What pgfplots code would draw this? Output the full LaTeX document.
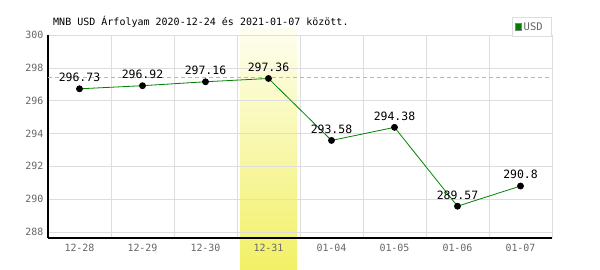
\documentclass[border=0pt]{standalone}
\usepackage{pgfplots}
\pgfplotsset{compat=1.18}
\usepackage{pgfplotstable}
\usepackage{fontspec}
\setmainfont{DejaVu Sans Mono}
\setmonofont{DejaVu Sans Mono}

\definecolor{gridgray}{HTML}{DDDDDD}
\definecolor{ticktext}{HTML}{666666}
\definecolor{usdgreen}{HTML}{008000}
\definecolor{dashgreen}{HTML}{99CC99}
\definecolor{hltop}{HTML}{FEFEF0}
\definecolor{hlbot}{HTML}{F2F064}

\pgfplotsset{
 layers/mylayers/.define layer set={axis background,axis grid,axis ticks,axis lines,highlight,axis tick labels,main,axis descriptions,axis foreground}{},
}

\pgfplotstableread{
x y lab
0 296.73 296.73
1 296.92 296.92
2 297.16 297.16
3 297.36 297.36
4 293.58 293.58
5 294.38 294.38
6 289.57 289.57
7 290.8 290.8
}\usd

\begin{document}
\begin{tikzpicture}
\begin{axis}[
 set layers=mylayers,
 at={(0,0)}, anchor=south west,
 scale only axis, width=504bp, height=202.8bp,
 xmin=-0.5, xmax=7.5, ymin=287.63, ymax=300,
 axis x line*=bottom, axis y line*=left,
 axis line style={black, line width=1.2bp, -},
 xtick={0,...,7},
 xticklabels={12-28,12-29,12-30,12-31,01-04,01-05,01-06,01-07},
 minor xtick={-0.5,0.5,...,7.5},
 xminorgrids,
 ytick={288,290,...,300},
 yticklabels={288,290,292,294,296,298,300},
 ymajorgrids,
 grid style={gridgray, line width=0.8bp},
 minor grid style={gridgray, line width=0.8bp},
 major tick length=0pt, minor tick length=0pt,
 tick label style={font=\fontsize{10}{12}\selectfont, text=ticktext},
 xticklabel style={yshift=-3bp},
 yticklabel style={xshift=-1bp},
 clip=false,
 legend style={at={(1,1.0897)}, anchor=north east, draw=gridgray, line width=0.8bp,
   font=\fontsize{10.5}{12}\selectfont, text=ticktext, inner xsep=2bp, inner ysep=3bp},
 legend cell align=left,
 legend image code/.code={\draw[#1] (0bp,-3.2bp) rectangle (6.4bp,3.2bp);},
]
\begin{pgfonlayer}{highlight}
\fill[top color=hltop, bottom color=hlbot] (axis cs:2.55,285.6) rectangle (axis cs:3.45,300.43);
\end{pgfonlayer}
\addplot[dashgreen, dash pattern=on 4bp off 3bp, line width=0.8bp, forget plot] coordinates {(-0.5,297.4) (7.45,297.4)};
\addplot[usdgreen, line width=0.8bp, mark=*, mark size=3bp, mark options={black, fill=black, solid},
  nodes near coords, point meta=explicit symbolic,
  every node near coord/.style={anchor=south, yshift=5.5bp, inner sep=1bp, black, font=\fontsize{11.5}{13}\selectfont},
  forget plot] table[x=x,y=y,meta=lab]{\usd};
\addlegendimage{fill=usdgreen, draw=gray, line width=0.8bp}
\addlegendentry{USD\hspace*{5bp}}
\end{axis}
\node[anchor=west, font=\fontsize{10.05}{12}\selectfont, inner sep=0pt] at (5bp,216.5bp) {MNB USD Árfolyam 2020-12-24 és 2021-01-07 között.};
\pgfresetboundingbox
\useasboundingbox (-48bp,-32bp) rectangle (552bp,238bp);
\end{tikzpicture}
\end{document}
